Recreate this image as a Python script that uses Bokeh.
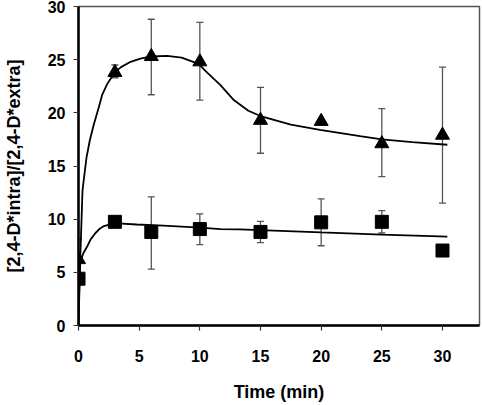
from bokeh.plotting import figure
from bokeh.models import Range1d, FixedTicker
from bokeh.embed import file_html
from bokeh.resources import INLINE

# ---- data ----
time_pts = [0, 3, 6, 10, 15, 20, 25, 30]

tri_vals = [6.2, 23.8, 25.3, 24.8, 19.3, 19.2, 17.1, 17.9]
tri_err_t = [0, 3, 6, 10, 15, 25, 30]
tri_err_lo = [4.3, 23.3, 21.7, 21.2, 16.2, 14.0, 11.5]
tri_err_hi = [8.1, 24.5, 28.8, 28.5, 22.4, 20.4, 24.3]

sq_vals = [4.4, 9.75, 8.8, 9.07, 8.8, 9.7, 9.75, 7.05]
sq_err_t = [6, 10, 15, 20, 25]
sq_err_lo = [5.3, 7.6, 7.8, 7.5, 8.7]
sq_err_hi = [12.1, 10.5, 9.8, 11.9, 10.8]

# fitted curves
tri_curve_t = [0, 0.15, 0.33, 0.5, 0.66, 0.93, 1.26, 1.67, 1.95, 2.36, 2.7, 3.0,
               3.5, 4.3, 5.1, 6.0, 7.3, 8.5, 9.9, 10.5, 11.7, 12.8, 14.0, 15.0,
               17.5, 19.9, 23.2, 25.0, 27.5, 30.4]
tri_curve_v = [0, 6.5, 12.7, 14.3, 15.8, 17.4, 18.9, 20.5, 21.7, 22.7, 23.3, 23.8,
               24.3, 24.8, 25.1, 25.3, 25.35, 25.2, 24.6, 23.9, 22.6, 21.2, 20.2, 19.7,
               18.9, 18.4, 17.8, 17.5, 17.25, 17.0]

sq_curve_t = [0, 0.05, 0.1, 0.16, 0.4, 0.7, 1.0, 1.4, 1.75, 2.1, 2.6, 3.2, 4.8,
              7.0, 10.0, 11.7, 13.3, 20.0, 25.0, 30.4]
sq_curve_v = [0, 3.0, 5.0, 6.0, 6.8, 7.4, 8.1, 8.7, 9.1, 9.35, 9.5, 9.6, 9.5,
              9.4, 9.2, 9.07, 9.04, 8.75, 8.55, 8.35]

x_ticks = [0, 5, 10, 15, 20, 25, 30]
y_ticks = [0, 5, 10, 15, 20, 25, 30]

FONT = "Liberation Sans"

p = figure(width=482, height=405, output_backend="svg", toolbar_location=None,
           x_range=Range1d(0, 33.05), y_range=Range1d(0, 30),
           min_border_left=78, min_border_right=3, min_border_top=6,
           min_border_bottom=80)

p.background_fill_color = "white"
p.border_fill_color = "white"
p.outline_line_color = "#555555"
p.outline_line_width = 1.5
p.grid.visible = False

# axes
p.xaxis.ticker = FixedTicker(ticks=x_ticks)
p.yaxis.ticker = FixedTicker(ticks=y_ticks)
for ax in (p.xaxis, p.yaxis):
    ax.axis_line_color = "black"
    ax.axis_line_width = 2.5
    ax.major_tick_in = 0
    ax.major_tick_out = 5
    ax.major_tick_line_color = "#333333"
    ax.major_tick_line_width = 1.2
    ax.minor_tick_line_color = None
    ax.major_label_text_font = FONT
    ax.major_label_text_font_style = "bold"
    ax.major_label_text_font_size = "16px"
    ax.major_label_text_color = "black"
    ax.axis_label_text_font = FONT
    ax.axis_label_text_font_style = "bold"
    ax.axis_label_text_font_size = "18px"
    ax.axis_label_text_color = "black"

p.xaxis.axis_label = "Time (min)"
p.yaxis.axis_label = "[2,4-D*intra]/[2,4-D*extra]"
p.xaxis.major_label_standoff = 19
p.xaxis.axis_label_standoff = 17
p.yaxis.major_label_standoff = 8
p.yaxis.axis_label_standoff = 21

# error bars
ERR_COL = "#555555"
p.segment(x0=tri_err_t, y0=tri_err_lo, x1=tri_err_t, y1=tri_err_hi,
          line_color=ERR_COL, line_width=1.3)
p.segment(x0=sq_err_t, y0=sq_err_lo, x1=sq_err_t, y1=sq_err_hi,
          line_color=ERR_COL, line_width=1.3)
p.scatter(x=tri_err_t + tri_err_t, y=tri_err_lo + tri_err_hi, marker="dash",
          size=7, line_color=ERR_COL, line_width=1.3)
p.scatter(x=sq_err_t + sq_err_t, y=sq_err_lo + sq_err_hi, marker="dash",
          size=7, line_color=ERR_COL, line_width=1.3)

# fitted curves
p.line(tri_curve_t, tri_curve_v, line_color="black", line_width=1.8)
p.line(sq_curve_t, sq_curve_v, line_color="black", line_width=1.8)

# markers
p.scatter(x=time_pts, y=tri_vals, marker="triangle", size=14,
          fill_color="black", line_color="black")
p.scatter(x=time_pts, y=sq_vals, marker="square", size=13,
          fill_color="black", line_color="black")

open("out.html", "w").write(file_html(p, INLINE))
